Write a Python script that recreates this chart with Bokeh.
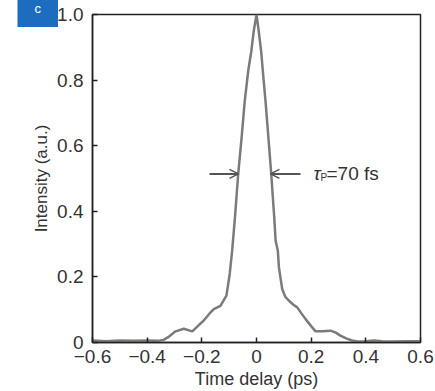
from bokeh.plotting import figure
from bokeh.models import (FixedTicker, Range1d, Arrow, OpenHead, Label)
from bokeh.embed import file_html
from bokeh.resources import INLINE

# ---- data ----
time_ps = [-0.6, -0.55, -0.5, -0.45, -0.4, -0.36, -0.34, -0.32, -0.296, -0.266,
           -0.235, -0.215, -0.193, -0.17, -0.156, -0.132, -0.11, -0.098, -0.089,
           -0.078, -0.067, -0.055, -0.043, -0.03, -0.019, -0.01, 0.0, 0.008,
           0.017, 0.025, 0.033, 0.044, 0.054, 0.065, 0.07, 0.078, 0.082, 0.094,
           0.105, 0.118, 0.135, 0.149, 0.165, 0.179, 0.2, 0.216, 0.24, 0.271,
           0.29, 0.307, 0.33, 0.35, 0.37, 0.4, 0.43, 0.46, 0.5, 0.55, 0.6]
intensity = [0.006, 0.004, 0.006, 0.005, 0.006, 0.005, 0.008, 0.018, 0.034, 0.042,
             0.034, 0.05, 0.067, 0.09, 0.102, 0.112, 0.143, 0.209, 0.28,
             0.39, 0.513, 0.62, 0.736, 0.83, 0.888, 0.95, 1.0, 0.95,
             0.888, 0.81, 0.736, 0.62, 0.513, 0.38, 0.31, 0.28, 0.229, 0.163,
             0.14, 0.128, 0.115, 0.107, 0.088, 0.072, 0.05, 0.034, 0.034, 0.036,
             0.03, 0.021, 0.012, 0.006, 0.003, 0.004, 0.006, 0.004, 0.003, 0.004, 0.004]

x_ticks = [-0.6, -0.4, -0.2, 0, 0.2, 0.4, 0.6]
x_tick_labels = ["\u22120.6", "\u22120.4", "\u22120.2", "0", "0.2", "0.4", "0.6"]
y_ticks = [0, 0.2, 0.4, 0.6, 0.8, 1.0]
y_tick_labels = ["0", "0.2", "0.4", "0.6", "0.8", "1.0"]

x_title = "Time delay (ps)"
y_title = "Intensity (a.u.)"
panel_tag = "c"

fwhm_level = 0.514
fwhm_left = -0.066
fwhm_right = 0.051
annotation_text = "=70 fs"

FONT = "Liberation Sans"
TXT = "#333333"

# frame geometry (pixels)
FL, FR, FT, FB = 92, 15, 13, 49
W, H = 435, 391
fw = W - FL - FR
xs = 1.2 / fw   # data units per pixel


def px_to_x(px):
    return -0.6 + (px - FL) * xs


p = figure(width=W, height=H, output_backend="svg", toolbar_location=None,
           x_range=Range1d(-0.6, 0.6), y_range=Range1d(0, 1.0),
           min_border_left=FL, min_border_right=FR, min_border_top=FT,
           min_border_bottom=FB)
p.background_fill_color = "white"
p.border_fill_color = "white"
p.outline_line_color = "#222222"
p.outline_line_width = 1.5
p.grid.visible = False

# panel tag "c" drawn as the figure title, pushed left of the frame
p.title.text = panel_tag
p.title.align = "left"
p.title.offset = -(FL - 17)
p.title.standoff = -25
p.title.padding = (17, 11)
p.title.text_font = FONT
p.title.text_font_size = "13px"
p.title.text_font_style = "normal"
p.title.text_color = "white"
p.title.background_fill_color = "#1c6cc0"

p.line(time_ps, intensity, line_color="#7b7b7b", line_width=2.5)

for ax, ticks, labels in ((p.xaxis[0], x_ticks, x_tick_labels), (p.yaxis[0], y_ticks, y_tick_labels)):
    ax.ticker = FixedTicker(ticks=ticks, minor_ticks=[])
    ax.major_label_overrides = {t: l for t, l in zip(ticks, labels)}
    ax.major_tick_in = 5
    ax.major_tick_out = 0
    ax.minor_tick_line_color = None
    ax.axis_line_color = "#222222"
    ax.axis_line_width = 1.5
    ax.major_tick_line_color = "#222222"
    ax.major_tick_line_width = 1.5
    ax.major_label_text_font = FONT
    ax.major_label_text_font_size = "19px"
    ax.major_label_text_color = TXT
    ax.axis_label_text_font = FONT
    ax.axis_label_text_font_style = "normal"
    ax.axis_label_text_color = TXT

p.xaxis.axis_label = x_title
p.xaxis.axis_label_text_font_size = "18px"
p.xaxis.major_label_standoff = 7
p.xaxis.axis_label_standoff = 3
p.yaxis.axis_label = y_title
p.yaxis.axis_label_text_font_size = "17px"
p.yaxis.major_label_standoff = 9
p.yaxis.axis_label_standoff = 3

# FWHM arrows
head_kw = dict(size=9, line_color="#555555", line_width=1.5)
p.add_layout(Arrow(end=OpenHead(**head_kw), x_start=fwhm_left - 0.106, y_start=fwhm_level,
                   x_end=fwhm_left, y_end=fwhm_level, line_color="#555555", line_width=2))
p.add_layout(Arrow(end=OpenHead(**head_kw), x_start=fwhm_right + 0.11, y_start=fwhm_level,
                   x_end=fwhm_right, y_end=fwhm_level, line_color="#555555", line_width=2))

# tau_P = 70 fs label
p.add_layout(Label(x=px_to_x(313), y=fwhm_level, text="\u03c4", text_font=FONT,
                   text_font_style="italic", text_font_size="19px", text_color=TXT,
                   text_baseline="middle"))
p.add_layout(Label(x=px_to_x(320), y=fwhm_level - 0.012, text="P", text_font=FONT,
                   text_font_size="10px", text_color=TXT, text_baseline="middle"))
p.add_layout(Label(x=px_to_x(326), y=fwhm_level, text=annotation_text, text_font=FONT,
                   text_font_size="19px", text_color=TXT, text_baseline="middle"))

with open("out.html", "w") as f:
    f.write(file_html(p, INLINE))
